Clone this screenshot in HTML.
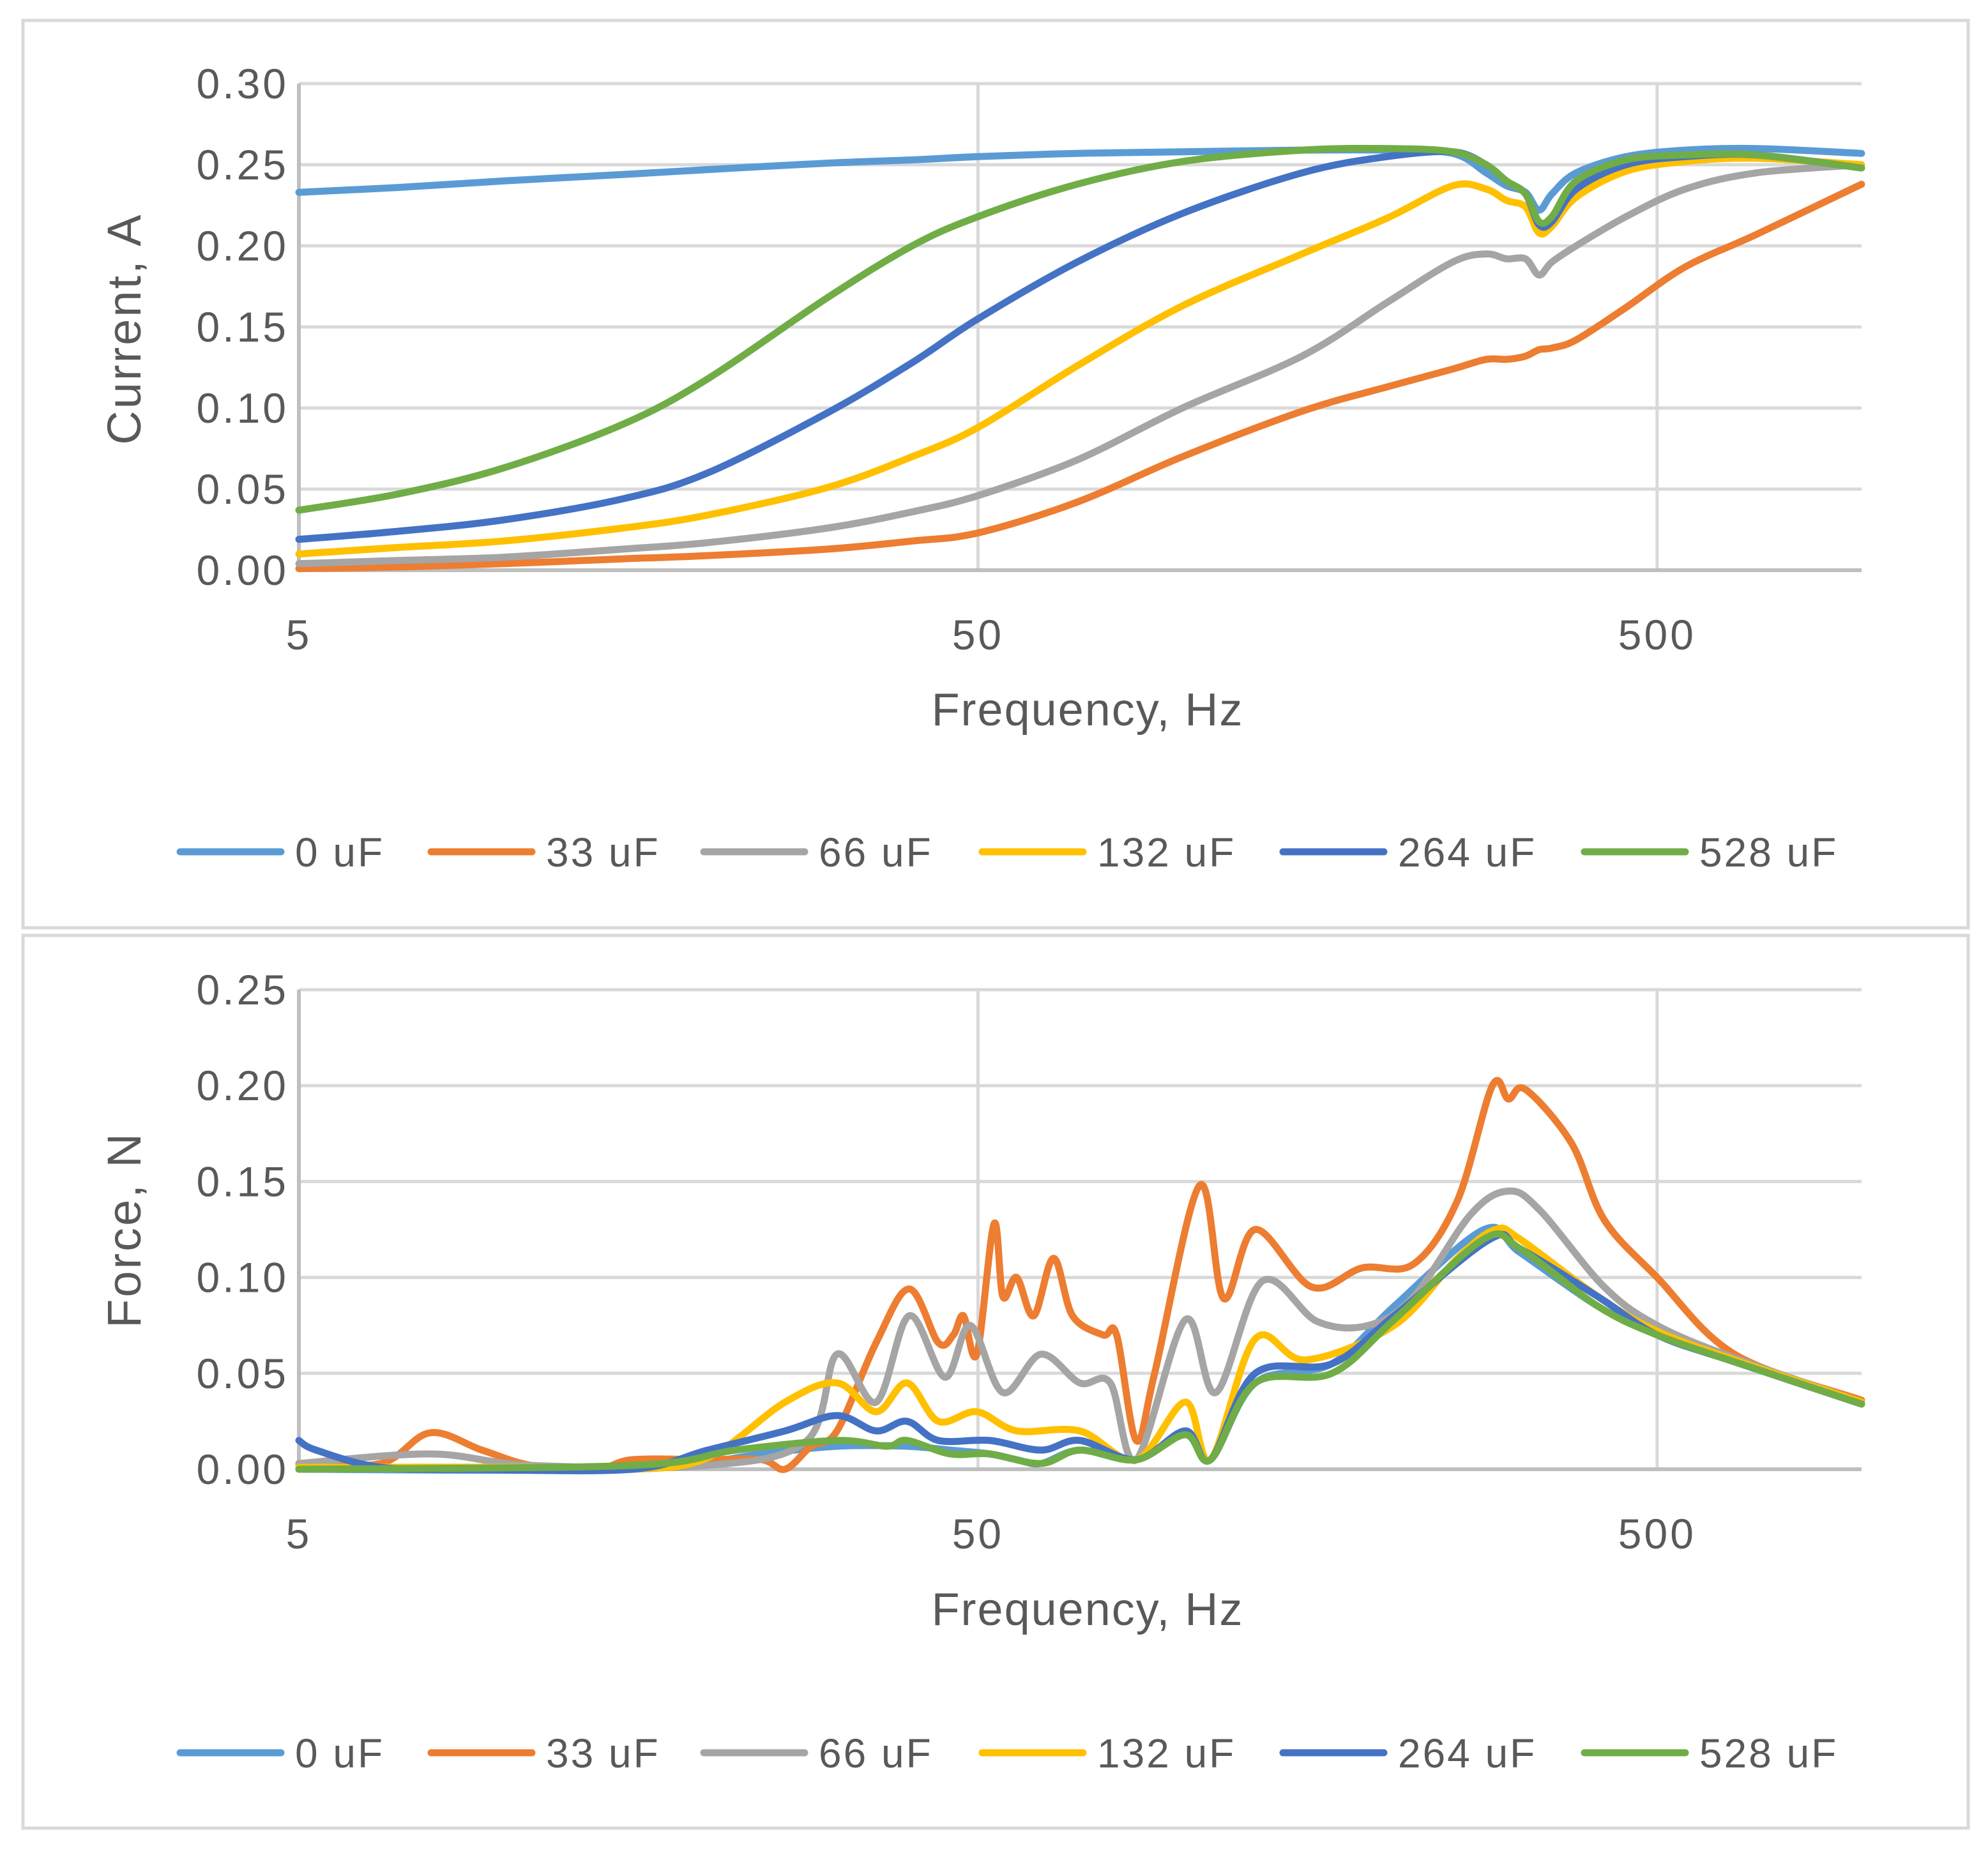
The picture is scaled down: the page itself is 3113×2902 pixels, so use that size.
<!DOCTYPE html>
<html><head><meta charset="utf-8">
<style>
html,body{margin:0;padding:0;background:#fff;}
svg{display:block;}
text{font-family:"Liberation Sans",sans-serif;fill:#595959;}
</style></head>
<body>
<svg id="svg" width="3113" height="2902" viewBox="0 0 3113 2902" xmlns="http://www.w3.org/2000/svg">
<rect x="0" y="0" width="3113" height="2902" fill="#fff"/>
<rect x="36" y="32" width="3046" height="1421" fill="none" stroke="#d9d9d9" stroke-width="5"/>
<rect x="36" y="1465" width="3046" height="1398" fill="none" stroke="#d9d9d9" stroke-width="5"/>
<g id="top"></g>
<g id="bot"></g>
</svg>
<script>
// ---- series meta
const seriesNames = ["0 uF","33 uF","66 uF","132 uF","264 uF","528 uF"];
const seriesColors = ["#5b9bd5","#ed7d31","#a5a5a5","#ffc000","#4472c4","#70ad47"];
const xTickVals = [5,50,500];
const xTickLabels = ["5","50","500"];
const topYTicks = [0,0.05,0.10,0.15,0.20,0.25,0.30];
const topYLabels = ["0.00","0.05","0.10","0.15","0.20","0.25","0.30"];
const botYTicks = [0,0.05,0.10,0.15,0.20,0.25];
const botYLabels = ["0.00","0.05","0.10","0.15","0.20","0.25"];

// ---- current chart data
const curFreq = [5,7,10,15,20,30,40,50,70,100,150,200,250,280,300,320,335,350,380,450,550,700,1000];
const cur0 = [.233,.236,.240,.244,.247,.251,.253,.255,.257,.258,.259,.259,.257,.245,.237,.233,.222,.232,.245,.255,.259,.260,.257];
const cur33 = [.001,.002,.004,.007,.009,.013,.018,.023,.042,.070,.098,.113,.124,.130,.130,.132,.136,.137,.142,.162,.187,.207,.238];
const cur66 = [.004,.006,.008,.013,.017,.026,.036,.046,.068,.100,.132,.165,.190,.195,.192,.192,.182,.190,.200,.218,.235,.245,.250];
const cur132 = [.010,.014,.018,.026,.034,.051,.070,.088,.126,.163,.195,.217,.237,.235,.228,.224,.208,.212,.230,.246,.252,.254,.250];
const cur264 = [.019,.024,.031,.044,.060,.097,.128,.155,.190,.220,.245,.255,.258,.250,.240,.232,.213,.215,.235,.250,.255,.256,.248];
const cur528 = [.037,.047,.063,.090,.118,.168,.200,.218,.238,.252,.259,.260,.258,.250,.240,.232,.215,.218,.240,.253,.256,.256,.248];

// ---- force chart data
const f0Freq = [5,15.5,24,31,39.3,45.5,52,57,61.9,70.6,85.5,101,110,128,166,205,278,314,409,500,650,1000];
const f0Val = [0,0,.008,.012,.012,.010,.008,.005,.003,.010,.005,.018,.005,.045,.055,.085,.125,.113,.085,.070,.056,.034];
const f33Freq = [5,6.6,7.8,9.3,11,13.7,15.5,20,24,26,28.4,31,35.4,39.6,43.7,46,47.6,49.8,52.8,54.4,57,60.4,64.6,68.9,76.4,80,85.5,91,106,115,128,155,184,219,254,286,302,320,374,418,500,650,1000];
const f33Val = [.003,.003,.019,.010,.002,0,.005,.005,.005,0,.012,.020,.066,.094,.066,.070,.080,.060,.128,.090,.100,.080,.110,.080,.070,.070,.015,.050,.148,.089,.125,.095,.105,.107,.140,.200,.193,.198,.170,.130,.100,.060,.036];
const f66Freq = [5,7.8,11,20,28,31,35.4,39.6,44.7,48.7,54.4,61.9,70.6,78.3,85.5,101,112,131,158,188,219,266,302,336,418,500,650,1000];
const f66Val = [.003,.008,.002,.002,.015,.060,.035,.080,.048,.075,.040,.060,.045,.045,.005,.078,.040,.098,.077,.075,.090,.133,.145,.135,.095,.075,.058,.035];
const f132Freq = [5,11,15.5,20,26,31,35.4,39.3,43.7,49.8,57,70.6,85.5,101,110,128,152,205,254,289,314,409,500,650,1000];
const f132Val = [.001,.001,0,.006,.035,.045,.030,.045,.025,.030,.020,.020,.005,.035,.005,.068,.057,.075,.110,.125,.120,.090,.072,.057,.035];
const f264Freq = [5,5.3,6.6,9,15.5,20,26,31,35.4,39.3,43.7,52,61.9,70.6,85.5,101,110,128,166,205,284,314,409,500,650,1000];
const f264Val = [.015,.010,.001,0,0,.010,.020,.028,.020,.025,.015,.015,.010,.015,.005,.020,.005,.050,.055,.080,.120,.115,.090,.070,.056,.034];
const f528Freq = [5,15.5,22,31,36.7,39.3,45.5,52,61.9,70.6,85.5,101,110,128,166,205,278,314,409,500,650,1000];
const f528Val = [0,.002,.010,.015,.012,.015,.008,.008,.003,.010,.005,.018,.005,.045,.050,.078,.120,.115,.085,.070,.056,.034];

const NS="http://www.w3.org/2000/svg";
function mk(tag,attrs,parent){const e=document.createElementNS(NS,tag);for(const k in attrs)e.setAttribute(k,attrs[k]);parent.appendChild(e);return e;}

const X0=468, X1=2915, FMIN=5, FMAX=1000;
function xs(f){return X0+(Math.log10(f)-Math.log10(FMIN))/(Math.log10(FMAX)-Math.log10(FMIN))*(X1-X0);}

function smoothPath(P){
  let d='M'+P[0][0].toFixed(1)+','+P[0][1].toFixed(1);
  for(let i=0;i<P.length-1;i++){
    const p0=P[Math.max(0,i-1)],p1=P[i],p2=P[i+1],p3=P[Math.min(P.length-1,i+2)];
    const t=6;
    const c1=[p1[0]+(p2[0]-p0[0])/t,p1[1]+(p2[1]-p0[1])/t];
    const c2=[p2[0]-(p3[0]-p1[0])/t,p2[1]-(p3[1]-p1[1])/t];
    d+=' C'+c1[0].toFixed(1)+','+c1[1].toFixed(1)+' '+c2[0].toFixed(1)+','+c2[1].toFixed(1)+' '+p2[0].toFixed(1)+','+p2[1].toFixed(1);
  }
  return d;
}

function drawChart(g,prefix,yTop,yBot,yMax,yTicks,yLabels,series,yTitle,xLabelY,xTitleY,legendY,yTitleY){
  const ys=v=>yBot-(v/yMax)*(yBot-yTop);
  yTicks.forEach((t,i)=>{
    if(t>0){const l=mk('line',{x1:X0,x2:X1,y1:ys(t),y2:ys(t),stroke:'#d9d9d9','stroke-width':5},g);
    
    }
    const tx=mk('text',{x:452,y:ys(t)+23,'font-size':66,'letter-spacing':4,'text-anchor':'end'},g);
    tx.textContent=yLabels[i];
    
    
  });
  xTickVals.forEach((f,i)=>{
    if(i>0){const l=mk('line',{x1:xs(f),x2:xs(f),y1:yTop,y2:yBot,stroke:'#d9d9d9','stroke-width':5},g);
    
    }
    const tx=mk('text',{x:xs(f),y:xLabelY,'font-size':66,'letter-spacing':4,'text-anchor':'middle'},g);
    tx.textContent=xTickLabels[i];
    
    
  });
  const ax=mk('line',{x1:X0,x2:X1,y1:yBot,y2:yBot,stroke:'#bfbfbf','stroke-width':6},g);
  
  
  const ay=mk('line',{x1:X0,x2:X0,y1:yTop,y2:yBot,stroke:'#bfbfbf','stroke-width':6},g);
  
  
  series.forEach((s,i)=>{
    const P=s[0].map((f,j)=>[xs(f),ys(s[1][j])]);
    const p=mk('path',{d:smoothPath(P),fill:'none',stroke:seriesColors[i],'stroke-width':11,'stroke-linejoin':'round','stroke-linecap':'round'},g);
    
    
  });
  const xt=mk('text',{x:1703,y:xTitleY,'font-size':72,'letter-spacing':2,'text-anchor':'middle'},g);
  xt.textContent='Frequency, Hz';
  
  
  const yt=mk('text',{x:0,y:0,'font-size':74,'letter-spacing':3,'text-anchor':'middle',transform:'translate(220,'+yTitleY+') rotate(-90)'},g);
  yt.textContent=yTitle;
  
  
  const lx=[282,675,1102,1538,2009,2481];
  seriesNames.forEach((n,i)=>{
    const lg=mk('g',{},g);
    
    
    mk('line',{x1:lx[i],x2:lx[i]+158,y1:legendY,y2:legendY,stroke:seriesColors[i],'stroke-width':11,'stroke-linecap':'round'},lg);
    const t=mk('text',{x:lx[i]+180,y:legendY+23,'font-size':64,'letter-spacing':3},lg);
    t.textContent=n;
  });
}

drawChart(document.getElementById('top'),'current',131,893,0.30,topYTicks,topYLabels,
  [[curFreq,cur0],[curFreq,cur33],[curFreq,cur66],[curFreq,cur132],[curFreq,cur264],[curFreq,cur528]],
  'Current, A',1017,1136,1334,515);
drawChart(document.getElementById('bot'),'force',1550,2301,0.25,botYTicks,botYLabels,
  [[f0Freq,f0Val],[f33Freq,f33Val],[f66Freq,f66Val],[f132Freq,f132Val],[f264Freq,f264Val],[f528Freq,f528Val]],
  'Force, N',2425,2545,2745,1926);
</script>
</body></html>
